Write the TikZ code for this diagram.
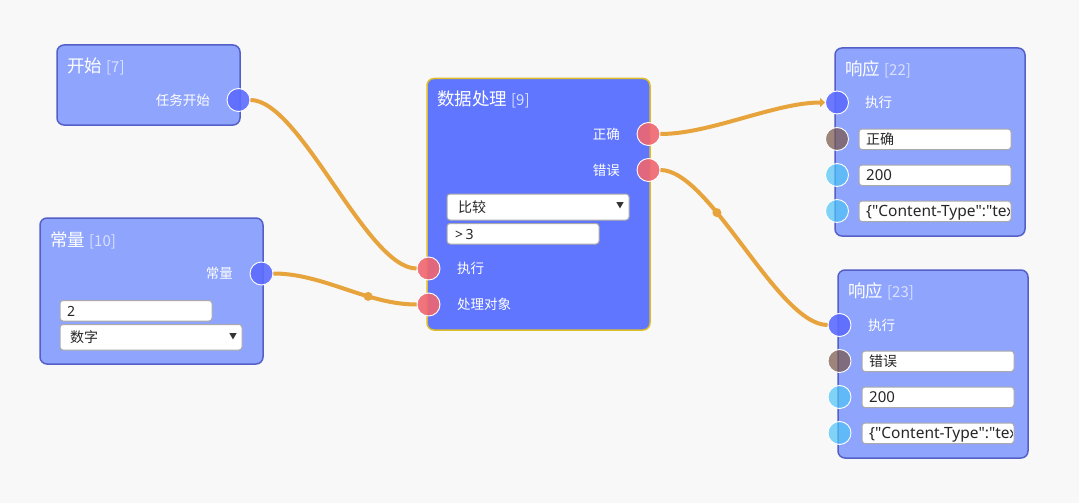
\documentclass[tikz,border=0pt]{standalone}
\usepackage{fontspec}
\setmainfont{Noto Sans CJK SC}
\newfontfamily\latin{Noto Sans}
\usetikzlibrary{arrows.meta}

\definecolor{canvas}{RGB}{248,248,248}
\definecolor{boxlight}{RGB}{143,164,252}
\definecolor{boxline}{RGB}{84,96,200}
\definecolor{boxdark}{RGB}{96,118,255}
\definecolor{boxgold}{RGB}{222,190,40}
\definecolor{portblue}{RGB}{92,108,255}
\definecolor{portred}{RGB}{240,102,112}
\definecolor{portbrown}{RGB}{121,85,72}
\definecolor{portsky}{RGB}{79,195,247}
\definecolor{wire}{RGB}{232,164,60}
\definecolor{idx}{RGB}{218,224,255}
\definecolor{fieldline}{RGB}{170,170,170}

\newcommand{\Zh}{\fontsize{13.5}{16}\selectfont}
\newcommand{\Qt}{\textquotedbl}
\newcommand{\Json}{{\latin\fontsize{15.5}{18}\selectfont\{\Qt Content-Type\Qt:\Qt tex}}

\begin{document}
\begin{tikzpicture}[x=1pt, y=-1pt,
  lightbox/.style={draw=boxline, fill=boxlight, line width=1.5pt, rounded corners=7pt},
  darkbox/.style={draw=boxgold, fill=boxdark, line width=1.5pt, rounded corners=7pt},
  port/.style={circle, draw=white, line width=0.9pt, minimum size=23pt, inner sep=0pt, fill opacity=0.9},
  inblue/.style={port, fill=portblue},
  inred/.style={port, fill=portred},
  inbrown/.style={port, fill=portbrown, fill opacity=0.7},
  insky/.style={port, fill=portsky, fill opacity=0.7},
  title/.style={font=\fontsize{17.5}{20}\selectfont, text=white, anchor=base west, inner sep=0pt},
  lbl/.style={font=\Zh, text=white, inner sep=0pt},
  field/.style={draw=fieldline, fill=white, line width=1pt, rounded corners=3pt},
  ftext/.style={font=\fontsize{14}{16}\selectfont, text=black!85, anchor=base west, inner sep=0pt},
  caret/.style={font=\fontsize{8}{9}\selectfont, text=black!80, inner sep=0pt},
  link/.style={draw=wire, line width=4pt},
  knob/.style={circle, fill=wire, minimum size=9pt, inner sep=0pt}]

  % canvas
  \fill[canvas] (0,0) rectangle (1079,503);

  % 开始 [7]
  \draw[lightbox] (57,45) rectangle (240,125);
  \node[title] (t7) at (67,73) {开始 {\fontsize{15}{18}\selectfont\color{idx}[7]}};
  \node[lbl, anchor=base east] (l7) at (210,105) {任务开始};

  % 常量 [10]
  \draw[lightbox] (40,218) rectangle (263,364);
  \node[title] (t10) at (50,246.5) {常量 {\fontsize{15}{18}\selectfont\color{idx}[10]}};
  \node[lbl, anchor=base east] (l10) at (233,278) {常量};
  \draw[field] (60,300.5) rectangle (212,321);
  \node[ftext] (v10) at (67,316) {\latin 2};
  \draw[field] (60,324.5) rectangle (242,350);
  \node[ftext] (s10) at (70,342.5) {数字};
  \node[caret] at (233,337) {▼};

  % 数据处理 [9]
  \draw[darkbox] (427,78.5) rectangle (650,330);
  \node[title] (t9) at (437,105.5) {数据处理 {\fontsize{15}{18}\selectfont\color{idx}[9]}};
  \node[lbl, anchor=base east] (l9ok) at (620,139) {正确};
  \node[lbl, anchor=base east] (l9err) at (620,175) {错误};
  \draw[field] (447,194) rectangle (629,220);
  \node[ftext] (s9) at (458,212.5) {比较};
  \node[caret] at (620,206) {▼};
  \draw[field] (447,223.5) rectangle (599,244);
  \node[ftext] (v9) at (455,239) {\latin >\,3};
  \node[lbl, anchor=base west] (l9run) at (457,273.5) {执行};
  \node[lbl, anchor=base west] (l9obj) at (457,309.5) {处理对象};

  % 响应 [22]
  \draw[lightbox] (835,48) rectangle (1025,236);
  \node[title] (t22) at (845,75) {响应 {\fontsize{15}{18}\selectfont\color{idx}[22]}};
  \node[lbl, anchor=base west] (l22) at (865,107.5) {执行};
  \foreach \y/\txt in {129/正确, 165/{\latin\fontsize{15}{18}\selectfont 200}, 201/\Json} {
    \draw[field] (859,\y) rectangle (1011,\y+20.5);
    \begin{scope}
      \clip (859,\y) rectangle (1009,\y+20.5);
      \node[ftext] at (866,\y+15.5) {\txt};
    \end{scope}
  }

  % 响应 [23]
  \draw[lightbox] (838,270) rectangle (1028,458);
  \node[title] (t23) at (848,297.5) {响应 {\fontsize{15}{18}\selectfont\color{idx}[23]}};
  \node[lbl, anchor=base west] (l23) at (868,330.5) {执行};
  \foreach \y/\txt in {351/错误, 387/{\latin\fontsize{15}{18}\selectfont 200}, 423/\Json} {
    \draw[field] (862,\y) rectangle (1014,\y+20.5);
    \begin{scope}
      \clip (862,\y) rectangle (1012,\y+20.5);
      \node[ftext] at (869,\y+15.5) {\txt};
    \end{scope}
  }

  % ports
  \node[inblue] (p7) at (238.5,100) {};
  \node[inblue] (p10) at (261.5,273.5) {};
  \node[inred] (p9ok) at (648.5,134) {};
  \node[inred] (p9err) at (648.5,170) {};
  \node[inred] (p9run) at (428.5,268.5) {};
  \node[inred] (p9obj) at (428.5,304.5) {};
  \node[inblue] (p22run) at (837,102.5) {};
  \node[inbrown] (p22a) at (837,139) {};
  \node[insky] (p22b) at (837,175) {};
  \node[insky] (p22c) at (837,211) {};
  \node[inblue] (p23run) at (839.5,325) {};
  \node[inbrown] (p23a) at (839.5,361) {};
  \node[insky] (p23b) at (839.5,397) {};
  \node[insky] (p23c) at (839.5,433) {};

  % links
  \draw[link] (p7.east) .. controls +(50,0) and +(-50,0) .. (p9run.west);
  \draw[link] (p10.east) .. controls +(50,0) and +(-50,0) .. node[knob, pos=0.665] (k1) {} (p9obj.west);
  \draw[link, -{Triangle[length=5pt, width=9pt]}] (p9ok.east) .. controls +(50,0) and +(-50,0) .. (p22run.west);
  \draw[link] (p9err.east) .. controls +(50,0) and +(-50,0) .. node[knob, pos=0.345] (k2) {} (p23run.west);
\end{tikzpicture}
\end{document}
